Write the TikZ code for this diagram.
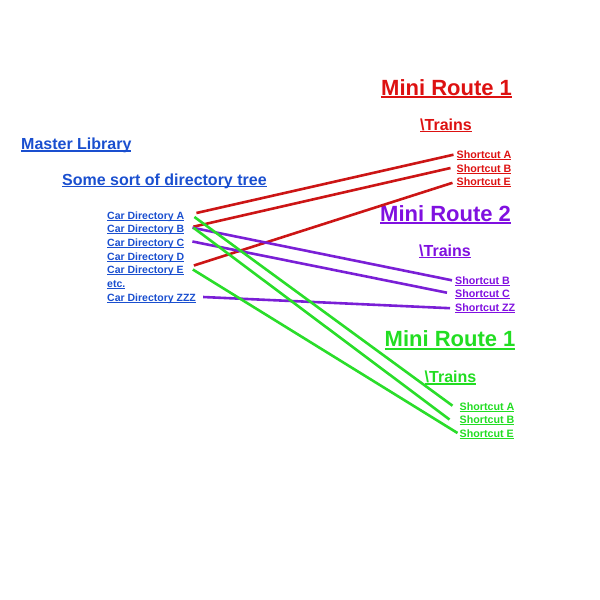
\documentclass[tikz,border=0pt]{standalone}
\usepackage{fontspec}
\setmainfont{Liberation Sans}
\usetikzlibrary{calc}
\definecolor{tblue}{HTML}{1A4FCF}
\definecolor{tred}{HTML}{DD1111}
\definecolor{lred}{HTML}{CC1515}
\definecolor{tpurple}{HTML}{8010E0}
\definecolor{lpurple}{HTML}{7A1FD6}
\definecolor{tgreen}{HTML}{22DD22}
\definecolor{lgreen}{HTML}{2ADD2A}
\newcommand\myul[1]{\setbox0\hbox{#1}\rlap{\rule[-0.13em]{\wd0}{0.075em}}\box0}
\tikzset{
  lbl/.style={inner sep=0pt, anchor=base west, font=\bfseries},
  big/.style={lbl, font=\bfseries\fontsize{22}{24}\selectfont},
  mid/.style={lbl, font=\bfseries\fontsize{16}{18}\selectfont},
  small/.style={lbl, font=\bfseries\fontsize{10.5}{12}\selectfont},
  sc/.style={lbl, font=\bfseries\fontsize{10.7}{12}\selectfont},
  link/.style={line width=2.6pt},
}
\begin{document}
\begin{tikzpicture}[x=1pt,y=-1pt]
\useasboundingbox (0,0) rectangle (600,600);
% left side
\node[mid, text=tblue] (ml) at (21,149.5) {\myul{Master Library}};
\node[mid, text=tblue] (ss) at (62,185) {\myul{Some sort of directory tree}};
\node[small, text=tblue] (cda) at (107,219) {\myul{Car Directory A}};
\node[small, text=tblue] (cdb) at (107,232.7) {\myul{Car Directory B}};
\node[small, text=tblue] (cdc) at (107,246.5) {\myul{Car Directory C}};
\node[small, text=tblue] (cdd) at (107,260) {\myul{Car Directory D}};
\node[small, text=tblue] (cde) at (107,273.5) {\myul{Car Directory E}};
\node[small, text=tblue] (etc) at (107,287.3) {\myul{etc.}};
\node[small, text=tblue] (cdz) at (107,301) {\myul{Car Directory ZZZ}};
% red group
\node[big, text=tred] (r1) at (381,95) {\myul{Mini Route 1}};
\node[mid, text=tred] (rt) at (420,130) {\myul{\textbackslash Trains}};
\node[sc, text=tred] (rsa) at (456.5,158.7) {\myul{Shortcut A}};
\node[sc, text=tred] (rsb) at (456.5,172) {\myul{Shortcut B}};
\node[sc, text=tred] (rse) at (456.5,185.8) {\myul{Shortcut E}};
% purple group
\node[big, text=tpurple] (p2) at (380,221) {\myul{Mini Route 2}};
\node[mid, text=tpurple] (pt) at (419,256) {\myul{\textbackslash Trains}};
\node[sc, text=tpurple] (psb) at (455,284.3) {\myul{Shortcut B}};
\node[sc, text=tpurple] (psc) at (455,297.7) {\myul{Shortcut C}};
\node[sc, text=tpurple] (psz) at (455,311.2) {\myul{Shortcut ZZ}};
% green group
\node[big, text=tgreen] (g1) at (384.5,346.7) {\myul{Mini Route 1}};
\node[mid, text=tgreen] (gt) at (424.5,382.5) {\myul{\textbackslash Trains}};
\node[sc, text=tgreen] (gsa) at (459.5,410.7) {\myul{Shortcut A}};
\node[sc, text=tgreen] (gsb) at (459.5,423.5) {\myul{Shortcut B}};
\node[sc, text=tgreen] (gse) at (459.5,437) {\myul{Shortcut E}};
% red links
\draw[link, lred] ($(cda.base east)+(12,-6)$) -- ($(rsa.base west)+(-3,-4)$);
\draw[link, lred] ($(cdb.base east)+(9,-6)$) -- ($(rsb.base west)+(-6,-4)$);
\draw[link, lred] ($(cde.base east)+(10,-8)$) -- ($(rse.base west)+(-4,-3)$);
% purple links
\draw[link, lpurple] ($(cdb.base east)+(8,-5)$) -- ($(psb.base west)+(-3,-4)$);
\draw[link, lpurple] ($(cdc.base east)+(8,-5)$) -- ($(psc.base west)+(-8,-5)$);
\draw[link, lpurple] ($(cdz.base east)+(7,-4)$) -- ($(psz.base west)+(-5,-3)$);
% green links
\draw[link, lgreen] ($(cda.base east)+(10,-2)$) -- ($(gsa.base west)+(-7,-5)$);
\draw[link, lgreen] ($(cdb.base east)+(9,-5)$) -- ($(gsb.base west)+(-10,-4)$);
\draw[link, lgreen] ($(cde.base east)+(9,-4)$) -- ($(gse.base west)+(-2,-4)$);
\end{tikzpicture}
\end{document}
